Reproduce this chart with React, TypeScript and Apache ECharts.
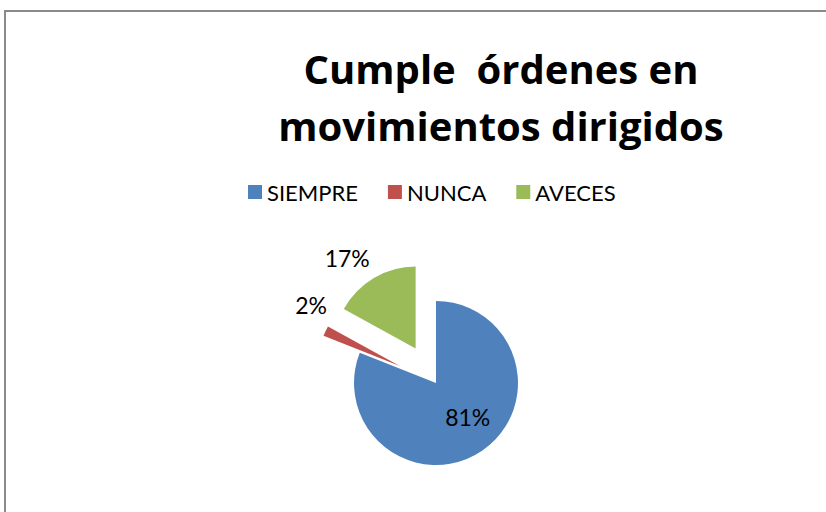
import React, { useEffect, useRef } from "react";
import * as echarts from "echarts";

const categories = ["SIEMPRE", "NUNCA", "AVECES"];
const values = [81, 2, 17];
const colors = ["#4F81BD", "#C0504D", "#9BBB59"];
const exploded = [false, true, true];
const titleText = "Cumple  órdenes en\nmovimientos dirigidos";

export default function App() {
  const ref = useRef<HTMLDivElement>(null);
  useEffect(() => {
    if (!ref.current) return;
    const chart = echarts.init(ref.current, null, { renderer: "svg" });
    const data = categories.map((name, i) => ({
      name,
      value: values[i],
      selected: exploded[i],
      itemStyle: { color: colors[i] },
      label:
        i === 0
          ? { position: "inside" as const }
          : { position: "outside" as const },
      labelLine: { show: false, length: 14, length2: 0 },
    }));
    const labelShift = [
      [7, -2],
      [19, -20],
      [8, -8],
    ];
    chart.setOption({
      animation: false,
      backgroundColor: "#ffffff",
      graphic: [
        {
          type: "rect",
          shape: { x: 5, y: 11, width: 900, height: 600 },
          style: { fill: "none", stroke: "#8a8a8a", lineWidth: 2 },
          silent: true,
        },
      ],
      title: {
        text: titleText,
        left: 496,
        top: 35,
        textAlign: "center",
        textStyle: {
          fontFamily: "Open Sans",
          fontWeight: "bold",
          fontSize: 40,
          lineHeight: 57,
          color: "#000000",
        },
      },
      legend: {
        data: categories,
        left: 243,
        top: 176,
        icon: "rect",
        itemWidth: 14,
        itemHeight: 14,
        itemGap: 30,
        textStyle: { fontFamily: "Lato", fontSize: 22, color: "#000000" },
      },
      series: [
        {
          type: "pie",
          center: [436, 383],
          radius: 82,
          startAngle: 90,
          clockwise: true,
          selectedMode: "multiple",
          selectedOffset: 40,
          emphasis: { disabled: true },
          label: {
            show: true,
            formatter: "{d}%",
            fontFamily: "Lato",
            fontSize: 23,
            color: "#000000",
          },
          labelLayout: (p: any) => ({
            dx: labelShift[p.dataIndex][0],
            dy: labelShift[p.dataIndex][1],
          }),
          data,
        },
      ],
    });
    return () => chart.dispose();
  }, []);
  return (
    <div
      ref={ref}
      style={{ position: "fixed", left: 0, top: 0, width: 826, height: 512 }}
    />
  );
}
